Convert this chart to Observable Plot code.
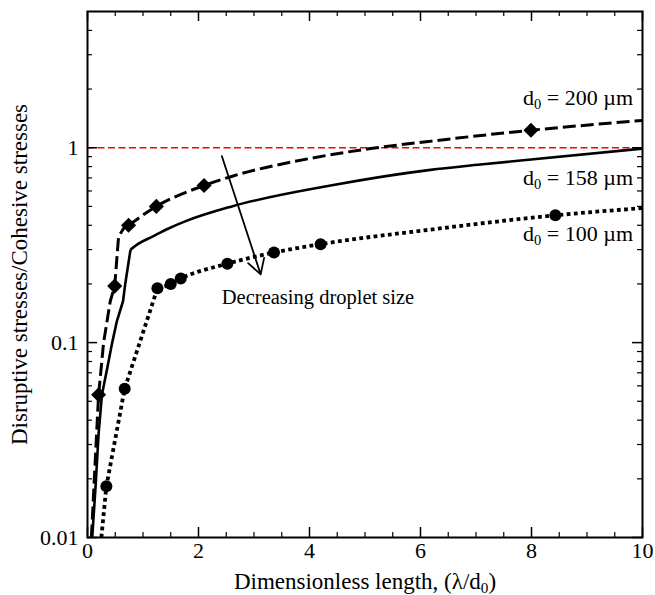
<!DOCTYPE html>
<html><head><meta charset="utf-8">
<script src="https://cdn.jsdelivr.net/npm/d3@7"></script>
<script src="https://cdn.jsdelivr.net/npm/@observablehq/plot@0.6"></script>
<style>
body{margin:0;background:#fff}
#chart svg{display:block}
#chart svg text{font-family:"Liberation Serif","Times New Roman","DejaVu Serif",serif !important}
</style>
</head><body><div id="chart"></div>
<script>
// d0 = 200 µm (dashed) curve and diamond markers; curve200Break = index of the sharp knee
const curve200X = [0.07, 0.14, 0.2, 0.29, 0.41, 0.49, 0.56, 0.65, 0.74, 1.24, 2.1, 2.58, 4.0, 5.1, 6.18, 8.0, 10];
const curve200Y = [0.01, 0.025, 0.054, 0.1, 0.163, 0.195, 0.35, 0.385, 0.40, 0.50, 0.64, 0.71, 0.88, 0.99, 1.08, 1.23, 1.38];
const curve200Break = 8;
const mark200X = [0.2, 0.49, 0.74, 1.24, 2.1, 7.99];
const mark200Y = [0.054, 0.195, 0.40, 0.50, 0.64, 1.23];
// d0 = 158 µm (solid) curve
const curve158X = [0.085, 0.144, 0.2, 0.26, 0.36, 0.445, 0.53, 0.64, 0.68, 0.775, 0.92, 1.17, 1.46, 1.77, 2.6, 4.38, 6.18, 7.08, 10];
const curve158Y = [0.01, 0.018, 0.034, 0.054, 0.075, 0.1, 0.129, 0.163, 0.2, 0.30, 0.322, 0.35, 0.385, 0.42, 0.50, 0.64, 0.77, 0.82, 0.99];
const curve158Break = 9;
// d0 = 100 µm (dotted) curve and circle markers
const curve100X = [0.25, 0.34, 0.67, 1.26, 1.5, 1.68, 2.52, 3.36, 4.2, 6.18, 8.43, 10];
const curve100Y = [0.01, 0.0183, 0.058, 0.19, 0.20, 0.213, 0.254, 0.29, 0.32, 0.38, 0.45, 0.49];
const curve100Break = 3;
const mark100X = [0.34, 0.67, 1.26, 1.5, 1.68, 2.52, 3.36, 4.2, 8.43];
const mark100Y = [0.0183, 0.058, 0.19, 0.20, 0.213, 0.254, 0.29, 0.32, 0.45];
// series labels
const labelText = ["d₀ = 200 µm", "d₀ = 158 µm", "d₀ = 100 µm"];
const labelX = [9.83, 9.83, 9.83];
const labelY = [1.80, 0.70, 0.362];
// annotation arrow and text
const arrowFrom = [2.42, 0.906];
const arrowTo = [3.12, 0.224];
const noteText = "Decreasing droplet size";
const noteAt = [2.42, 0.17];
// axes
const xMajor = [0, 2, 4, 6, 8, 10];
const xMinor = [0.5, 1, 1.5, 2.5, 3, 3.5, 4.5, 5, 5.5, 6.5, 7, 7.5, 8.5, 9, 9.5];
const yMajor = [0.01, 0.1, 1];
const yMinor = [0.02, 0.03, 0.04, 0.05, 0.06, 0.07, 0.08, 0.09, 0.2, 0.3, 0.4, 0.5, 0.6, 0.7, 0.8, 0.9, 2, 3, 4];
const xTitle = "Dimensionless length, (λ/d₀)";
const yTitle = "Disruptive stresses/Cohesive stresses";
const threshold = [1];

const zipXY = (xs, ys) => xs.map((x, i) => ({x, y: ys[i]}));
const lower = (xs, ys, k) => zipXY(xs, ys).slice(0, k + 1);
const upper = (xs, ys, k) => zipXY(xs, ys).slice(k);

const W = 655, H = 595, mL = 87, mR = 13, mT = 11, mB = 58;
const iw = W - mL - mR, ih = H - mT - mB;
const font = "'Liberation Serif', 'Times New Roman', serif";

const dashed = {x: "x", y: "y", stroke: "black", strokeWidth: 3, strokeDasharray: "13,5", strokeLinecap: "butt", strokeLinejoin: "miter"};
const solid = {x: "x", y: "y", stroke: "black", strokeWidth: 2.6, strokeLinecap: "butt", strokeLinejoin: "miter"};
const dotted = {x: "x", y: "y", stroke: "black", strokeWidth: 3.8, strokeDasharray: "3.8,3.4", strokeLinecap: "butt", strokeLinejoin: "miter"};

const plot = Plot.plot({
  width: W, height: H,
  marginLeft: mL, marginRight: mR, marginTop: mT, marginBottom: mB,
  style: {fontFamily: font, fontSize: "21px", color: "black", background: "white"},
  x: {domain: [0, 10], label: null},
  y: {type: "log", domain: [0.01, 5], label: null},
  marks: [
    Plot.ruleY(threshold, {stroke: "#ff0000", strokeWidth: 1.5, strokeDasharray: "7,3.5"}),
    Plot.line(lower(curve158X, curve158Y, curve158Break), solid),
    Plot.line(upper(curve158X, curve158Y, curve158Break), {...solid, curve: "monotone-x"}),
    Plot.line(lower(curve200X, curve200Y, curve200Break), dashed),
    Plot.line(upper(curve200X, curve200Y, curve200Break), {...dashed, curve: "monotone-x"}),
    Plot.line(lower(curve100X, curve100Y, curve100Break), dotted),
    Plot.line(upper(curve100X, curve100Y, curve100Break), {...dotted, curve: "monotone-x"}),
    Plot.dot(zipXY(mark200X, mark200Y), {x: "x", y: "y", symbol: "diamond2", r: 6.8, fill: "black", stroke: "none"}),
    Plot.dot(zipXY(mark100X, mark100Y), {x: "x", y: "y", symbol: "circle", r: 6, fill: "black", stroke: "none"}),
    Plot.arrow([0], {x1: () => arrowFrom[0], y1: () => arrowFrom[1], x2: () => arrowTo[0], y2: () => arrowTo[1], stroke: "black", strokeWidth: 1.8, headLength: 14, headAngle: 60}),
    Plot.text([noteText], {x: () => noteAt[0], y: () => noteAt[1], text: d => d, textAnchor: "start", fontSize: 20.5}),
    Plot.text(labelText, {x: (d, i) => labelX[i], y: (d, i) => labelY[i], text: d => d, textAnchor: "end", fontSize: 22}),
    // inward ticks
    Plot.ruleX(xMajor, {x: d => d, insetTop: ih - 10, strokeWidth: 1.5}),
    Plot.ruleX(xMinor, {x: d => d, insetTop: ih - 5, strokeWidth: 1.2}),
    Plot.ruleX(xMajor, {x: d => d, insetBottom: ih - 10, strokeWidth: 1.5}),
    Plot.ruleX(xMinor, {x: d => d, insetBottom: ih - 5, strokeWidth: 1.2}),
    Plot.ruleY(yMajor, {y: d => d, insetRight: iw - 10, strokeWidth: 1.5}),
    Plot.ruleY(yMinor, {y: d => d, insetRight: iw - 5, strokeWidth: 1.2}),
    Plot.ruleY(yMajor, {y: d => d, insetLeft: iw - 10, strokeWidth: 1.5}),
    Plot.ruleY(yMinor, {y: d => d, insetLeft: iw - 5, strokeWidth: 1.2}),
    Plot.frame({stroke: "black", strokeWidth: 2}),
    Plot.axisX({ticks: xMajor, tickSize: 0, tickPadding: 5, tickFormat: d => String(d), fontSize: 22}),
    Plot.axisY({ticks: yMajor, tickSize: 0, tickPadding: 9, tickFormat: d => String(d), fontSize: 22}),
    Plot.text([xTitle], {frameAnchor: "bottom", text: d => d, dy: 44, lineAnchor: "middle", textAnchor: "middle", fontSize: 23}),
    Plot.text([yTitle], {frameAnchor: "left", text: d => d, rotate: -90, dx: -68, lineAnchor: "middle", textAnchor: "middle", fontSize: 23})
  ]
});

document.getElementById("chart").appendChild(plot);

// render the "₀" as a true subscript
d3.select(plot).selectAll("text").each(function() {
  const s = this.textContent;
  if (!s.includes("₀") || this.querySelector("tspan")) return;
  const fs = parseFloat(getComputedStyle(this).fontSize) || 20;
  const shift = fs * 0.2;
  const parts = s.split("₀");
  this.textContent = "";
  const ns = "http://www.w3.org/2000/svg";
  parts.forEach((p, i) => {
    if (i > 0) {
      const sub = document.createElementNS(ns, "tspan");
      sub.setAttribute("font-size", (fs * 0.66).toFixed(1));
      sub.setAttribute("dy", shift.toFixed(1));
      sub.textContent = "0";
      this.appendChild(sub);
    }
    if (p.length) {
      const t = document.createElementNS(ns, "tspan");
      if (i > 0) t.setAttribute("dy", (-shift).toFixed(1));
      t.textContent = p;
      this.appendChild(t);
    }
  });
});
</script></body></html>
